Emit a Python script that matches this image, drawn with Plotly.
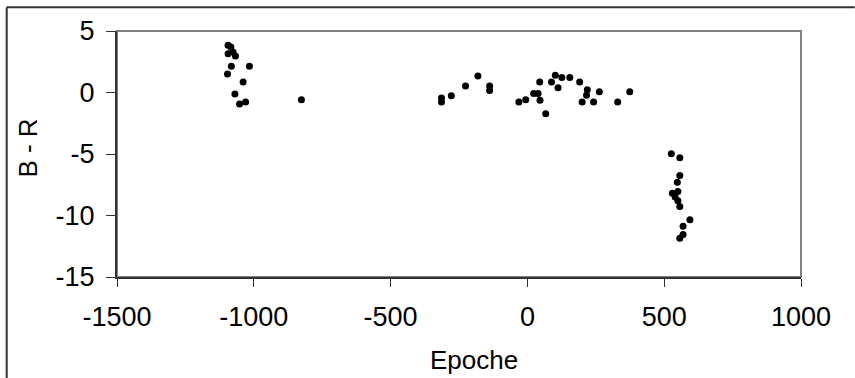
import plotly.graph_objects as go

# Data (Epoche vs B - R)
epoche = [
    -1094, -1084, -1094, -1076, -1067, -1082, -1016, -1096, -1039, -1069, -1052, -1030,
    -826,
    -314, -314, -278, -226, -181, -138, -138,
    -31, -6, 23, 39, 46, 45, 67, 88, 102, 112, 126, 155, 191, 219, 216, 200, 242, 263, 330, 374,
    526, 557, 557, 548, 530, 550, 540, 550, 557, 594, 569, 569, 557,
]
b_minus_r = [
    3.84, 3.70, 3.16, 3.29, 2.97, 2.14, 2.14, 1.50, 0.85, -0.13, -0.94, -0.78,
    -0.58,
    -0.45, -0.78, -0.26, 0.52, 1.34, 0.52, 0.17,
    -0.78, -0.58, -0.09, -0.09, -0.62, 0.85, -1.72, 0.85, 1.40, 0.39, 1.21, 1.21, 0.85, 0.23, -0.23, -0.78, -0.78, 0.07, -0.78, 0.07,
    -4.98, -5.30, -6.74, -7.29, -8.20, -8.05, -8.50, -8.80, -9.26, -10.34, -10.87, -11.54, -11.84,
]

x_ticks = [-1500, -1000, -500, 0, 500, 1000]
y_ticks = [-15, -10, -5, 0, 5]

FONT = "Liberation Sans, Arial, sans-serif"

fig = go.Figure()
fig.add_trace(go.Scatter(
    x=epoche, y=b_minus_r, mode="markers",
    marker=dict(color="black", size=7, line=dict(width=0)),
    showlegend=False, cliponaxis=False,
))

PW, PH = 684, 245.8            # plot area size in px
bx = (7 - 117.3) / PW          # outer border left edge (paper units)
by = (276.5 - 7) / PH          # outer border top edge (paper units)
ex = (855 - 117.3) / PW        # figure right edge
ey = (276.5 - 378) / PH        # figure bottom edge

fig.update_layout(
    width=855, height=378,
    margin=dict(l=117, r=54, t=31, b=101, pad=0),
    paper_bgcolor="white", plot_bgcolor="white",
    font=dict(family=FONT, size=27, color="black"),
    xaxis=dict(
        range=[-1500, 1000], tickvals=x_ticks, ticktext=[str(v) for v in x_ticks],
        showgrid=False, zeroline=False,
        showline=True, linecolor="#333333", linewidth=2,
        ticks="outside", ticklen=8, tickwidth=1, tickcolor="#333333",
        tickfont=dict(family=FONT, size=27, color="black"),
        ticklabelstandoff=7,
    ),
    yaxis=dict(
        range=[-15, 5], tickvals=y_ticks, ticktext=[str(v) for v in y_ticks],
        showgrid=False, zeroline=False,
        showline=True, linecolor="#333333", linewidth=2,
        ticks="outside", ticklen=9, tickwidth=1, tickcolor="#333333",
        tickfont=dict(family=FONT, size=27, color="black"),
        ticklabelstandoff=6,
    ),
    shapes=[
        # plot area border (grey)
        dict(type="rect", xref="paper", yref="paper", x0=0, x1=1, y0=0, y1=1,
             line=dict(color="#808080", width=2), layer="below"),
        # chart outer border: only left and top edges are inside the picture
        dict(type="line", xref="paper", yref="paper", x0=bx, x1=bx, y0=by, y1=ey,
             line=dict(color="#333333", width=2), layer="below"),
        dict(type="line", xref="paper", yref="paper", x0=bx, x1=ex, y0=by, y1=by,
             line=dict(color="#333333", width=2), layer="below"),
    ],
    annotations=[
        dict(text="Epoche", xref="paper", yref="paper",
             x=(474.5 - 117.3) / PW, y=(276.5 - 359) / PH,
             xanchor="center", yanchor="middle", showarrow=False,
             font=dict(family=FONT, size=26, color="black")),
        dict(text="B - R", xref="paper", yref="paper",
             x=(28.5 - 117.3) / PW, y=(276.5 - 148) / PH,
             xanchor="center", yanchor="middle", showarrow=False, textangle=-90,
             font=dict(family=FONT, size=26, color="black")),
    ],
)

fig.write_html("out.html")
